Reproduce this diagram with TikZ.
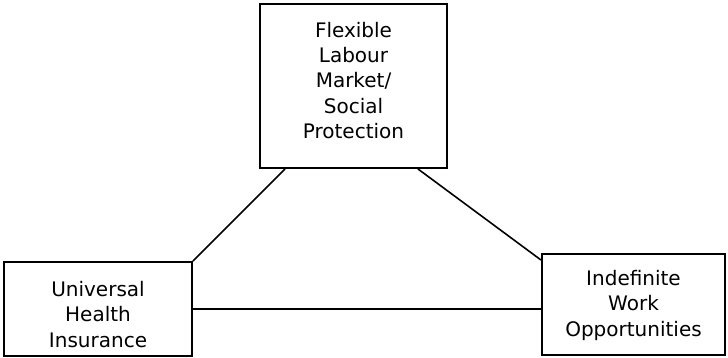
\documentclass[tikz,border=0pt]{standalone}
\usepackage{fontspec}
\setmainfont{DejaVu Sans}
\usepackage{tikz}

\newcommand{\boxtext}[2]{\raisebox{#1}[0pt][0pt]{\begin{tabular}{@{}c@{}}#2\end{tabular}}}

\begin{document}
\begin{tikzpicture}[x=1pt,y=-1pt,
		box/.style={draw,line width=1.9pt,align=center,inner sep=0pt,
			font=\fontsize{20}{25.2}\selectfont},
		link/.style={line width=1.6pt}]
			\useasboundingbox (0,0) rectangle (728,357);
			\node[box,minimum width=187pt,minimum height=164pt] (labour) at (353.5,86) {\boxtext{-2pt}{Flexible\\Labour\\Market/\\Social\\Protection}};
			\node[box,minimum width=188pt,minimum height=94pt] (health) at (98,309) {\boxtext{-13pt}{Universal\\Health\\Insurance}};
			\node[box,minimum width=183pt,minimum height=101pt] (work) at (633.5,304.5) {\boxtext{-6.5pt}{Indefinite\\Work\\Opportunities}};
			% connections
			\draw[link] ([xshift=26pt]labour.south west) -- (health.north east);
			\draw[link] ([xshift=-30pt]labour.south east) -- ([yshift=-7pt]work.north west);
			\draw[link] (health.east) -- (health.east -| work.west);
		\end{tikzpicture}
\end{document}
